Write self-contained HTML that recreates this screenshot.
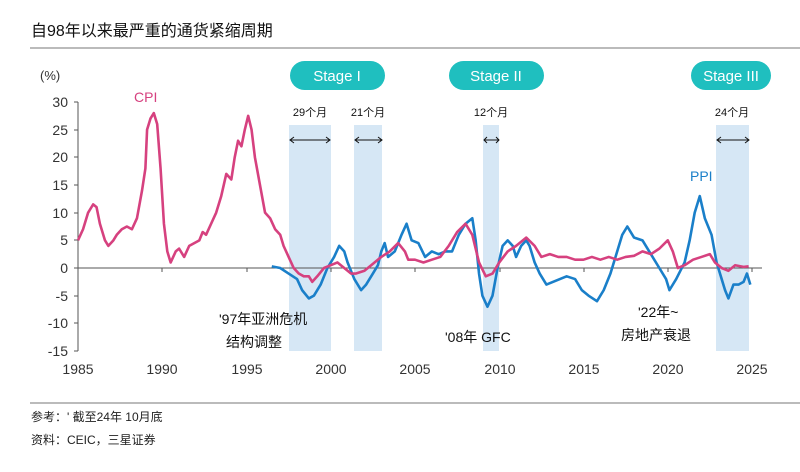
<!DOCTYPE html>
<html><head><meta charset="utf-8"><style>
body{margin:0;background:#fff;width:800px;height:467px;overflow:hidden;font-family:"Liberation Sans","Noto Sans CJK SC",sans-serif}
</style></head><body>
<svg width="800" height="467" xmlns="http://www.w3.org/2000/svg" font-family="Liberation Sans, Noto Sans CJK SC, sans-serif">
<text x="31" y="36" font-size="16" fill="#111">自98年以来最严重的通货紧缩周期</text>
<line x1="30" y1="48" x2="800" y2="48" stroke="#777" stroke-width="1"/>
<g fill="#d6e7f5">
<rect x="289" y="125" width="42" height="226"/>
<rect x="354" y="125" width="28" height="226"/>
<rect x="483" y="125" width="16" height="226"/>
<rect x="716" y="125" width="33" height="226"/>
</g>
<g fill="#1fbfbf">
<rect x="290" y="61" width="95" height="29" rx="14.5"/>
<rect x="449" y="61" width="95" height="29" rx="14.5"/>
<rect x="691" y="61" width="80" height="29" rx="14.5"/>
</g>
<g fill="#fff" font-size="15" text-anchor="middle">
<text x="337" y="81">Stage I</text><text x="496" y="81">Stage II</text><text x="731" y="81">Stage III</text>
</g>
<g font-size="11" fill="#111" text-anchor="middle">
<text x="310" y="116">29个月</text><text x="368" y="116">21个月</text><text x="491" y="116">12个月</text><text x="732" y="116">24个月</text>
</g>
<g stroke="#111" stroke-width="1" fill="none">
<path d="M290 140H330M294 137L290 140L294 143M326 137L330 140L326 143"/>
<path d="M355 140H382M359 137L355 140L359 143M378 137L382 140L378 143"/>
<path d="M484 140H499M487 137L484 140L487 143M496 137L499 140L496 143"/>
<path d="M717 140H749M721 137L717 140L721 143M745 137L749 140L745 143"/>
</g>
<text x="40" y="80" font-size="13" fill="#333">(%)</text>
<g font-size="14" fill="#333" text-anchor="end">
<text x="68" y="107">30</text><text x="68" y="135">25</text><text x="68" y="162">20</text><text x="68" y="190">15</text><text x="68" y="218">10</text><text x="68" y="245">5</text><text x="68" y="273">0</text><text x="68" y="301">-5</text><text x="68" y="328">-10</text><text x="68" y="356">-15</text>
</g>
<g stroke="#555" stroke-width="1">
<line x1="78" y1="102" x2="78" y2="351"/>
<line x1="78" y1="268" x2="762" y2="268"/>
<path d="M74 102H78M74 130H78M74 157H78M74 185H78M74 213H78M74 240H78M74 268H78M74 296H78M74 323H78M74 351H78"/>
<path d="M162 268v4M247 268v4M331 268v4M415 268v4M500 268v4M584 268v4M668 268v4M752 268v4"/>
</g>
<g font-size="14" fill="#333" text-anchor="middle">
<text x="78" y="374">1985</text><text x="162" y="374">1990</text><text x="247" y="374">1995</text><text x="331" y="374">2000</text><text x="415" y="374">2005</text><text x="500" y="374">2010</text><text x="584" y="374">2015</text><text x="668" y="374">2020</text><text x="752" y="374">2025</text>
</g>
<g transform="translate(78,268) scale(16.85,-5.533)" fill="none" stroke-linejoin="round">
<polyline vector-effect="non-scaling-stroke" stroke="#1a7fc9" stroke-width="2.6" points="11.5,0.3 12.0,0 12.5,-1 13.0,-2 13.3,-4 13.7,-5.5 14.0,-5 14.4,-3 14.8,0 15.2,2 15.5,4 15.8,3 16.0,1 16.4,-2 16.8,-4 17.1,-3 17.5,-1 17.8,0.5 18.0,3 18.2,4.5 18.4,2 18.8,3 19.2,6 19.5,8 19.8,5 20.2,4.5 20.6,2 21.0,3 21.4,2.5 21.8,3 22.2,3 22.6,6 23.0,8 23.4,9 23.6,5 23.8,-1 24.0,-5 24.3,-7 24.6,-5 24.9,0 25.2,4 25.5,5 25.8,4 26.0,2 26.3,4 26.6,5 26.8,4 27.1,1 27.4,-1 27.8,-3 28.2,-2.5 28.6,-2 29.0,-1.5 29.5,-2 29.9,-4 30.3,-5 30.8,-6 31.2,-4 31.6,-1 32.0,3 32.3,6 32.6,7.5 33.0,5.5 33.5,5 34.0,2.5 34.5,0 34.9,-2 35.1,-4 35.5,-2 36.0,1 36.3,5 36.6,10 36.9,13 37.2,9 37.6,6 37.9,1 38.2,-2 38.4,-4 38.6,-5.5 38.9,-3 39.2,-3 39.5,-2.5 39.7,-1 39.9,-3"/>
<polyline vector-effect="non-scaling-stroke" stroke="#d6417f" stroke-width="2.6" points="0,5 0.3,7 0.6,10 0.9,11.5 1.1,11 1.3,8 1.6,5 1.8,4 2.1,5 2.3,6 2.6,7 2.9,7.5 3.2,7 3.5,9 3.8,14 4.0,18 4.1,25 4.3,27 4.5,28 4.7,26 4.9,18 5.1,8 5.3,3 5.5,1 5.8,3 6.0,3.5 6.3,2 6.6,4 6.9,4.5 7.2,5 7.4,6.5 7.6,6 7.9,8 8.2,10 8.5,13 8.8,17 9.1,16 9.3,20 9.5,23 9.7,22 9.9,25 10.1,27.5 10.3,25 10.5,20 10.8,15 11.1,10 11.4,9 11.7,7 12.0,6 12.2,4 12.5,2 12.8,0 13.1,-1 13.4,-1.5 13.7,-1.5 13.9,-2.5 14.2,-1.5 14.6,0 15.0,0.5 15.4,1 15.8,0 16.2,-1 16.5,-1 17.0,-0.5 17.4,0.5 18.0,2 18.5,3 19.0,4.5 19.4,3 19.6,1.5 20.0,1.5 20.5,1 21.0,1.5 21.5,2 22.0,4 22.5,6.5 23.0,8 23.4,6 23.8,1 24.2,-1.5 24.6,-1 25.0,1 25.5,3 26.0,4 26.6,5.5 27.1,4 27.5,2 28.0,2.5 28.5,2 29.0,2 29.5,1.5 30.0,1.5 30.5,2 31.0,1.5 31.5,2 32.0,1.5 32.5,2 33.0,2.2 33.5,3 34.0,2.5 34.5,3.5 35.0,5 35.3,3 35.6,0 36.0,0.5 36.5,1.5 37.0,2 37.5,2.5 37.8,1 38.2,0 38.6,-0.5 39.0,0.5 39.5,0.2 39.8,0.3"/>
</g>
<text x="134" y="102" font-size="14" fill="#d6417f">CPI</text>
<text x="690" y="181" font-size="14" fill="#1a7fc9">PPI</text>
<g font-size="14" fill="#111">
<text x="219" y="324">'97年亚洲危机</text>
<text x="226" y="347">结构调整</text>
<text x="445" y="342">'08年  GFC</text>
<text x="638" y="317">'22年~</text>
<text x="621" y="340">房地产衰退</text>
</g>
<line x1="30" y1="403" x2="800" y2="403" stroke="#777" stroke-width="1"/>
<text x="31" y="421" font-size="12" fill="#222">参考：' 截至24年 10月底</text>
<text x="31" y="444" font-size="12" fill="#222">资料：CEIC，三星证券</text>
</svg>
</body></html>
